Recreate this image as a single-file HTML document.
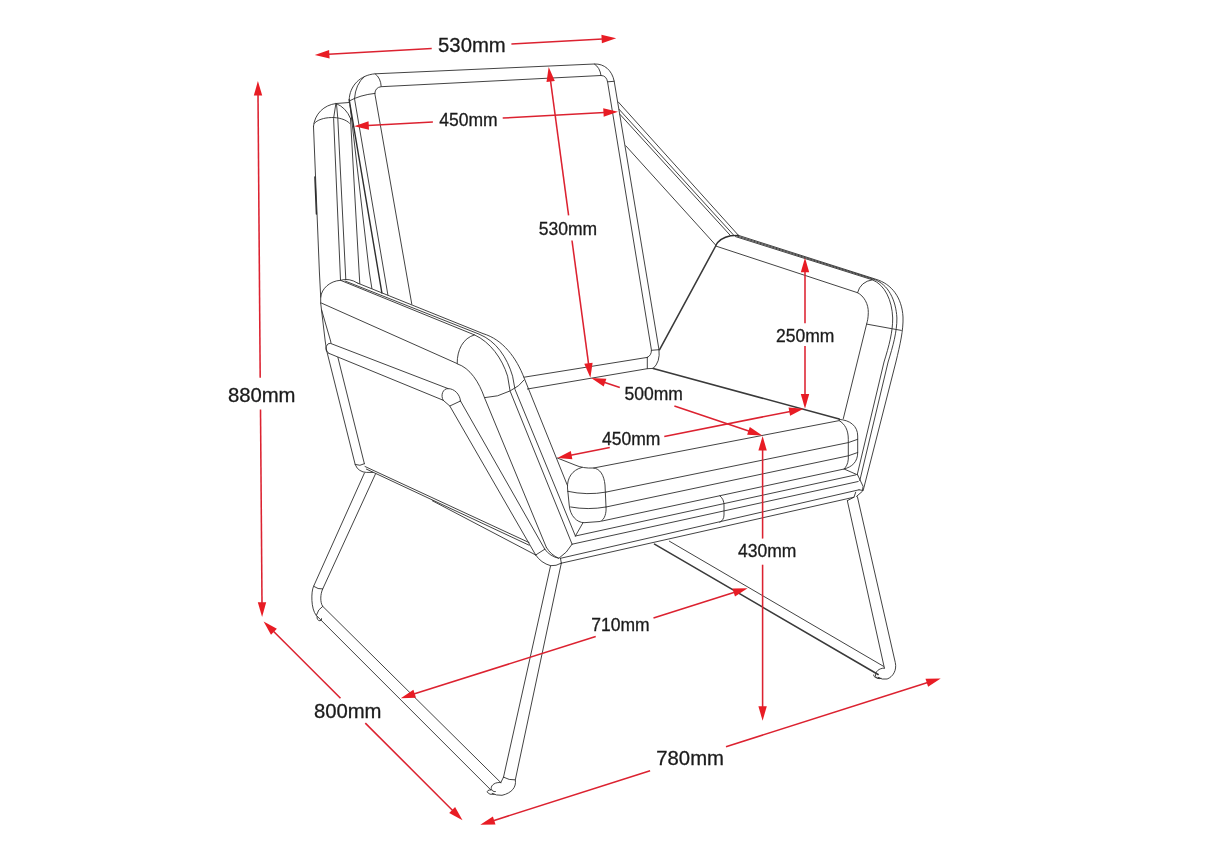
<!DOCTYPE html>
<html lang="en">
<head>
<meta charset="utf-8">
<title>Armchair dimensions</title>
<style>
  html,body{margin:0;padding:0;background:#fff;}
  body{width:1214px;height:859px;overflow:hidden;position:relative;}
  svg{position:absolute;left:0;top:0;display:block;}
  .ln path,.ln line,.ln ellipse{fill:none;stroke:#2e2e2e;stroke-width:0.9;stroke-linecap:round;stroke-linejoin:round;}
  .ln .tk{stroke-width:1.55;stroke:#3a3a3a;}
  .ln .md{stroke-width:1.4;}
  .dim line{stroke:#dc2230;stroke-width:1.55;fill:none;}
  .dim polygon{fill:#e81c24;stroke:none;}
  text{filter:grayscale(1);stroke:#1b1b1b;stroke-width:0.3px;font-family:"Liberation Sans",Arial,Helvetica,sans-serif;fill:#1b1b1b;}
  .t1{font-size:20.3px;}
  .t2{font-size:17.5px;}
</style>
</head>
<body>
<svg width="1214" height="859" viewBox="0 0 1214 859">
<rect x="0" y="0" width="1214" height="859" fill="#ffffff"/>

<!-- ================= CHAIR LINE ART ================= -->
<g class="ln" id="chair">

<!-- rear side panel (top-left) -->
<g id="rear-panel">
<path d="M313.5,126.3 C314.5,114 324,105 336.1,103.5 L349.2,102.5"/>
<path d="M336.1,103.5 Q346,107.5 350.5,118.4"/>
<path d="M314.2,123.5 C320,116 342,115 349.6,123.3"/>
<path d="M313.5,126.3 L319.4,272 L320.7,297.3"/>
<path class="md" d="M314.9,177 L316.4,214"/>
<path d="M335.8,104 L333.6,118.4 L340.5,280"/>
<path d="M336.5,104 L337.8,118.4 L345.8,279.6"/>
<path d="M350.5,118.4 L359.1,272 L359.8,283.6"/>
<path d="M350,105 L369.3,272 L371.9,288.6"/>
</g>

<!-- back cushion -->
<g id="back">
<path class="md" d="M349.2,99.8 L381.9,293"/>
<path d="M349.2,99.8 C349.5,86 360,75 375.2,73.8 L594.4,64 C604,63.6 612,70 614.2,81.3 L659,349.8"/>
<path d="M354.5,98.6 Q355.5,84 364.5,76.5"/>
<path d="M354.5,98.6 L387.9,295"/>
<path d="M349.2,101 Q360,95 374.8,93.4"/>
<path d="M375.2,73.8 Q380.8,78 381.2,86.4"/>
<path d="M374.8,93.4 L411.8,304.2"/>
<path d="M374.8,93.4 Q375.3,87.3 381.2,86.7 L601,75.5 Q606.5,75.6 607.6,82.1 L651.4,349.8 Q651.6,355.5 647.3,357.4"/>
<path d="M594.4,64 Q600,67.5 601,75.5"/>
<path d="M607.6,81.8 L614.2,81.3"/>
<path d="M651.4,350.3 L659,349.7"/>
<path d="M659,349.8 Q660.5,362 653.2,368.4"/>
<path d="M647.3,357.4 L647.3,368.7"/>
<path d="M524.1,377.2 L647.3,357.4"/>
<path d="M527.4,389 L647.3,368.7 L653.2,368.4"/>
</g>

<!-- right-hand frame tubes from back to arm -->
<g id="side-tubes">
<path d="M618.3,102 L738.5,235.4"/>
<path d="M619.2,109.4 L733.9,235.4"/>
<path d="M620,114.4 L730.6,235.7"/>
<path d="M625.8,145.8 L715.7,245.1"/>
</g>

<!-- right arm -->
<g id="right-arm">
<path class="md" d="M715.7,245.5 Q719.5,238 730.6,235.7 L738.5,235.4"/>
<path d="M738.5,235.4 L875.7,279.2 C892,284 902,298 903,317 C903.5,330 900,345 895.9,362 L864,487.2 L863.1,490.6"/>
<path d="M737,236 L874,279.4 C888,284 896,300 896.9,318 C897,332 893,346 888.1,362 L859.8,480.6"/>
<path d="M735.5,236.6 L872.4,279.8 C885,285 892,300 892.7,318 C892.8,332 889,346 884,362 L857.4,474"/>
<path d="M715.7,246 L857.5,292.7 C864,296 868.5,304 868.3,312.6 C868.2,318 867.5,321 866.6,324.1 L843.3,418.6"/>
<path d="M872.4,279.8 Q860.5,281.5 857.5,292.7"/>
<path d="M866.6,324.1 L901.3,330.4"/>
<path class="tk" d="M715.7,246 L659.6,349.6"/>
<path class="tk" d="M653.2,368.4 L839.2,419.1"/>
</g>

<!-- left arm -->
<g id="left-arm">
<path d="M320.7,303.1 L320.7,297.3 C321.5,288.5 330,281 340.5,280.3 Q349,277.6 357.9,283.2"/>
<path d="M357.9,283.2 L483,333.6 C503,339.5 516.5,358 524.1,377.9 L567.4,485.4"/>
<path d="M583,522.7 L575.4,536"/>
<path d="M345,281 L479,334.1 C496,341 507,357 512.6,376.2 L515,389.4 L575.4,536"/>
<path d="M340.5,280.3 L474.5,334.9 C490,342 502,358 507.6,376.2 L510.1,391.1 L572.1,544.2"/>
<path d="M321.5,303.1 L457.2,363.6"/>
<path d="M474.5,334.9 C463,338 457,350 457.2,363.8 C470,368 479,382 484.5,397.7 L546.4,547.5"/>
<path d="M484.5,397.7 Q498,397.3 510.1,390.9 Q520,386 524.1,380"/>
<path d="M320.7,303.1 L325.2,341 L326.7,350.8"/>
<path d="M321.6,310 L330.6,341 L331,343.2"/>
</g>

<!-- tube under left arm + diagonal -->
<g id="arm-tube">
<path d="M328.8,353.3 Q324.6,350.5 326.3,346.3 Q327.8,342.8 330.5,343.4 L448.1,388.6"/>
<path d="M328.8,353.3 L443.1,400.2"/>
<path d="M443.1,400.2 C440.3,395 443,388.5 448.1,388.6 C454,388.6 460,394 460.5,401"/>
<path d="M443.1,400.2 L449.8,406 L460.5,401"/>
<path d="M449.8,406 L535.7,555"/>
<path d="M460.5,401 L544.8,549.2"/>
</g>

<!-- rear upright tube, lower side rail, rear-left leg -->
<g id="rear-leg">
<path d="M326.7,350.8 L355.2,464.5 Q357,469 359.8,470.4 Q363,472.4 366.4,472.4 L373,472.4"/>
<path d="M337.9,357.4 L364.4,463.8"/>
<path d="M355.2,464.5 Q360,466.6 364.4,463.8"/>
<path d="M365,466.5 L529.1,542.6"/>
<path d="M366.4,469.1 L529.1,545.2"/>
<path d="M432.3,500.7 L535.7,555"/>
<path d="M364.4,473.1 L313.6,586.3 C311,591.5 310.8,609 316.3,615.4 L490.8,789.9"/>
<path d="M375.6,473.7 L322.7,589 C320.3,594 320,602.5 322.7,606.3 L500.8,782.6"/>
<path d="M313.6,586.3 Q318,589.5 322.7,589"/>
<path d="M316.3,615.4 Q318,609 322.7,606.3"/>
<path d="M317,616.5 Q316.8,620.6 320,620.8 Q322,620.6 321.6,618.6"/>
</g>

<!-- front-left corner joint + front-left leg -->
<g id="front-left-leg">
<path d="M535.7,555 Q541,563 550.6,565.7 Q556,566.2 561.3,563.2"/>
<path d="M535.7,555 L544.8,549.2"/>
<path d="M544.8,549.2 Q550,556.5 558.8,558.3"/>
<path d="M546.4,547.5 Q551,555 558.8,558.3 Q567,553 572.1,544.2"/>
<path d="M560.5,558.3 L561.3,563.2"/>
<path d="M550.6,565.7 L503.5,777.2"/>
<path d="M561.3,563.2 L515.3,779.9 C516.5,787 512,793 502,795.3 Q496,795.6 492.2,793.4"/>
<path d="M503.5,777.2 Q509,780.4 515.3,779.9"/>
<path d="M503.5,777.2 L500.8,782.6"/>
<path d="M500.8,782.6 C495.5,781.8 491,785 491.2,788.4 Q492,792 495.4,791.6"/>
<path d="M490.8,789.9 Q486.6,790 487.4,792.4 Q489,795 494.2,794.4"/>
</g>

<!-- seat cushion -->
<g id="seat">
<path d="M557.3,458 L575,465 Q583,468.6 593.6,468 L839.2,420.6"/>
<path d="M582,467.4 C572,470 567,478 567.5,488 L569.2,505 C570,516 577,522.5 584,522.7 L600,521.5 C605,520 606.5,512 606,507 L605,485 C604,475 600,468.6 593.6,468"/>
<path d="M567.6,491.3 Q587,495.6 606,492.1"/>
<path d="M570.6,507 Q588,510.2 606,507"/>
<path d="M606,492.1 L848.3,442.6 L857.7,439.3"/>
<path d="M606,507 L848.3,455.8 L857.7,452.5"/>
<path d="M601.8,521.1 L844.1,469 L857.4,474.8"/>
<path d="M575.4,536 L855.7,474.9"/>
<path d="M572.1,544.2 L858.2,481.5"/>
<path d="M560.5,558.3 L859,489.8"/>
<path d="M561.3,563.2 L854,497.2"/>
<path d="M719.8,495.8 Q724,499 724,505 L724,515 Q724,520 719.8,522.3"/>
<path d="M839.2,419.4 C850,420 857.7,426 857.7,436 L857.7,452.5 C857.7,462 852,467 844.1,469"/>
<path d="M839.2,420.6 C845,424 848.3,430 848.3,439.3 L848.3,459.1 C848,464 846,467 844.1,469"/>
</g>

<!-- front-right corner + front-right leg + right bottom rail -->
<g id="front-right-leg">
<path d="M857.4,474.4 L863.1,486.4 L862.3,491.4 L856.5,496.4"/>
<path d="M855.7,492.2 L854,497.2 L847.4,500.6"/>
<path d="M859,489.8 L862.6,490.4"/>
<path d="M847.4,501 L884.4,668.1"/>
<path d="M857.4,496.7 L895.3,662.6 C897,670 893,677 887.1,679 Q882,680 878.1,677.4"/>
<path d="M884.4,668.1 C879,668 874.5,672 875.6,676.4 Q877,679.4 881,678.4"/>
<path d="M873.6,675 Q873.6,678.4 879.6,678.2"/>
<path d="M669.4,541.2 L883.5,666.3"/>
<path class="tk" d="M654.5,544.1 L878.1,674.5"/>
</g>

</g>

<!-- ================= DIMENSIONS ================= -->
<g class="dim" id="dims">
<polygon points="314.8,55.1 329.1,50.1 329.6,58.5"/>
<polygon points="616.2,38.2 601.9,43.2 601.4,34.8"/>
<line x1="328.4" y1="54.3" x2="431.7" y2="48.5"/>
<line x1="511.4" y1="44.1" x2="602.6" y2="39.0"/>
<text class="t1" x="438.1" y="52.0">530mm</text>
<polygon points="354.2,126.3 368.5,121.3 369.0,129.7"/>
<polygon points="618.0,111.7 603.7,116.7 603.2,108.3"/>
<line x1="367.8" y1="125.5" x2="432.9" y2="121.9"/>
<line x1="502.7" y1="118.1" x2="604.4" y2="112.5"/>
<text class="t2" x="439.2" y="125.7">450mm</text>
<polygon points="257.9,81.0 262.2,95.6 253.8,95.6"/>
<polygon points="262.1,616.9 257.8,602.3 266.2,602.3"/>
<line x1="258.0" y1="94.6" x2="260.2" y2="377.8"/>
<line x1="260.5" y1="409.6" x2="262.0" y2="603.3"/>
<text class="t1" x="227.9" y="401.9">880mm</text>
<polygon points="548.7,67.0 554.8,80.9 546.5,82.0"/>
<polygon points="590.4,377.7 584.3,363.8 592.6,362.7"/>
<line x1="550.5" y1="80.5" x2="568.6" y2="215.3"/>
<line x1="572.0" y1="240.5" x2="588.6" y2="364.2"/>
<text class="t2" x="538.8" y="234.6">530mm</text>
<polygon points="805.0,257.7 809.2,272.3 800.8,272.3"/>
<polygon points="805.0,408.7 800.8,394.1 809.2,394.1"/>
<line x1="805.0" y1="271.3" x2="805.0" y2="323.3"/>
<line x1="805.0" y1="346.1" x2="805.0" y2="395.1"/>
<text class="t2" x="776.0" y="341.6">250mm</text>
<polygon points="591.2,378.0 606.4,378.7 603.7,386.6"/>
<polygon points="762.3,435.5 747.1,434.8 749.8,426.9"/>
<line x1="604.1" y1="382.3" x2="619.8" y2="387.6"/>
<line x1="674.4" y1="406.0" x2="749.4" y2="431.2"/>
<text class="t2" x="624.5" y="400.4">500mm</text>
<polygon points="557.3,458.0 570.8,451.0 572.4,459.3"/>
<polygon points="803.6,408.7 790.1,415.7 788.5,407.4"/>
<line x1="570.6" y1="455.3" x2="609.8" y2="447.5"/>
<line x1="664.3" y1="436.6" x2="790.3" y2="411.4"/>
<text class="t2" x="602.0" y="445.4">450mm</text>
<polygon points="762.6,436.0 766.8,450.6 758.4,450.6"/>
<polygon points="762.6,720.8 758.4,706.2 766.8,706.2"/>
<line x1="762.6" y1="449.6" x2="762.6" y2="538.6"/>
<line x1="762.6" y1="564.7" x2="762.6" y2="707.2"/>
<text class="t2" x="738.0" y="557.2">430mm</text>
<polygon points="400.8,698.2 413.4,689.8 416.0,697.8"/>
<polygon points="747.6,588.2 735.0,596.6 732.4,588.6"/>
<line x1="413.8" y1="694.1" x2="595.7" y2="636.4"/>
<line x1="653.5" y1="618.0" x2="734.6" y2="592.3"/>
<text class="t2" x="591.2" y="630.5">710mm</text>
<polygon points="263.6,621.4 276.9,628.8 271.0,634.7"/>
<polygon points="462.5,820.3 449.2,812.9 455.1,807.0"/>
<line x1="273.2" y1="631.0" x2="340.5" y2="698.3"/>
<line x1="365.3" y1="723.1" x2="452.9" y2="810.7"/>
<text class="t1" x="313.9" y="718.2">800mm</text>
<polygon points="480.3,824.8 492.9,816.4 495.5,824.4"/>
<polygon points="940.7,678.4 928.1,686.8 925.5,678.8"/>
<line x1="493.3" y1="820.7" x2="650.1" y2="770.8"/>
<line x1="726.0" y1="746.7" x2="927.7" y2="682.5"/>
<text class="t1" x="656.3" y="765.4">780mm</text>
</g>

</svg>
</body>
</html>
